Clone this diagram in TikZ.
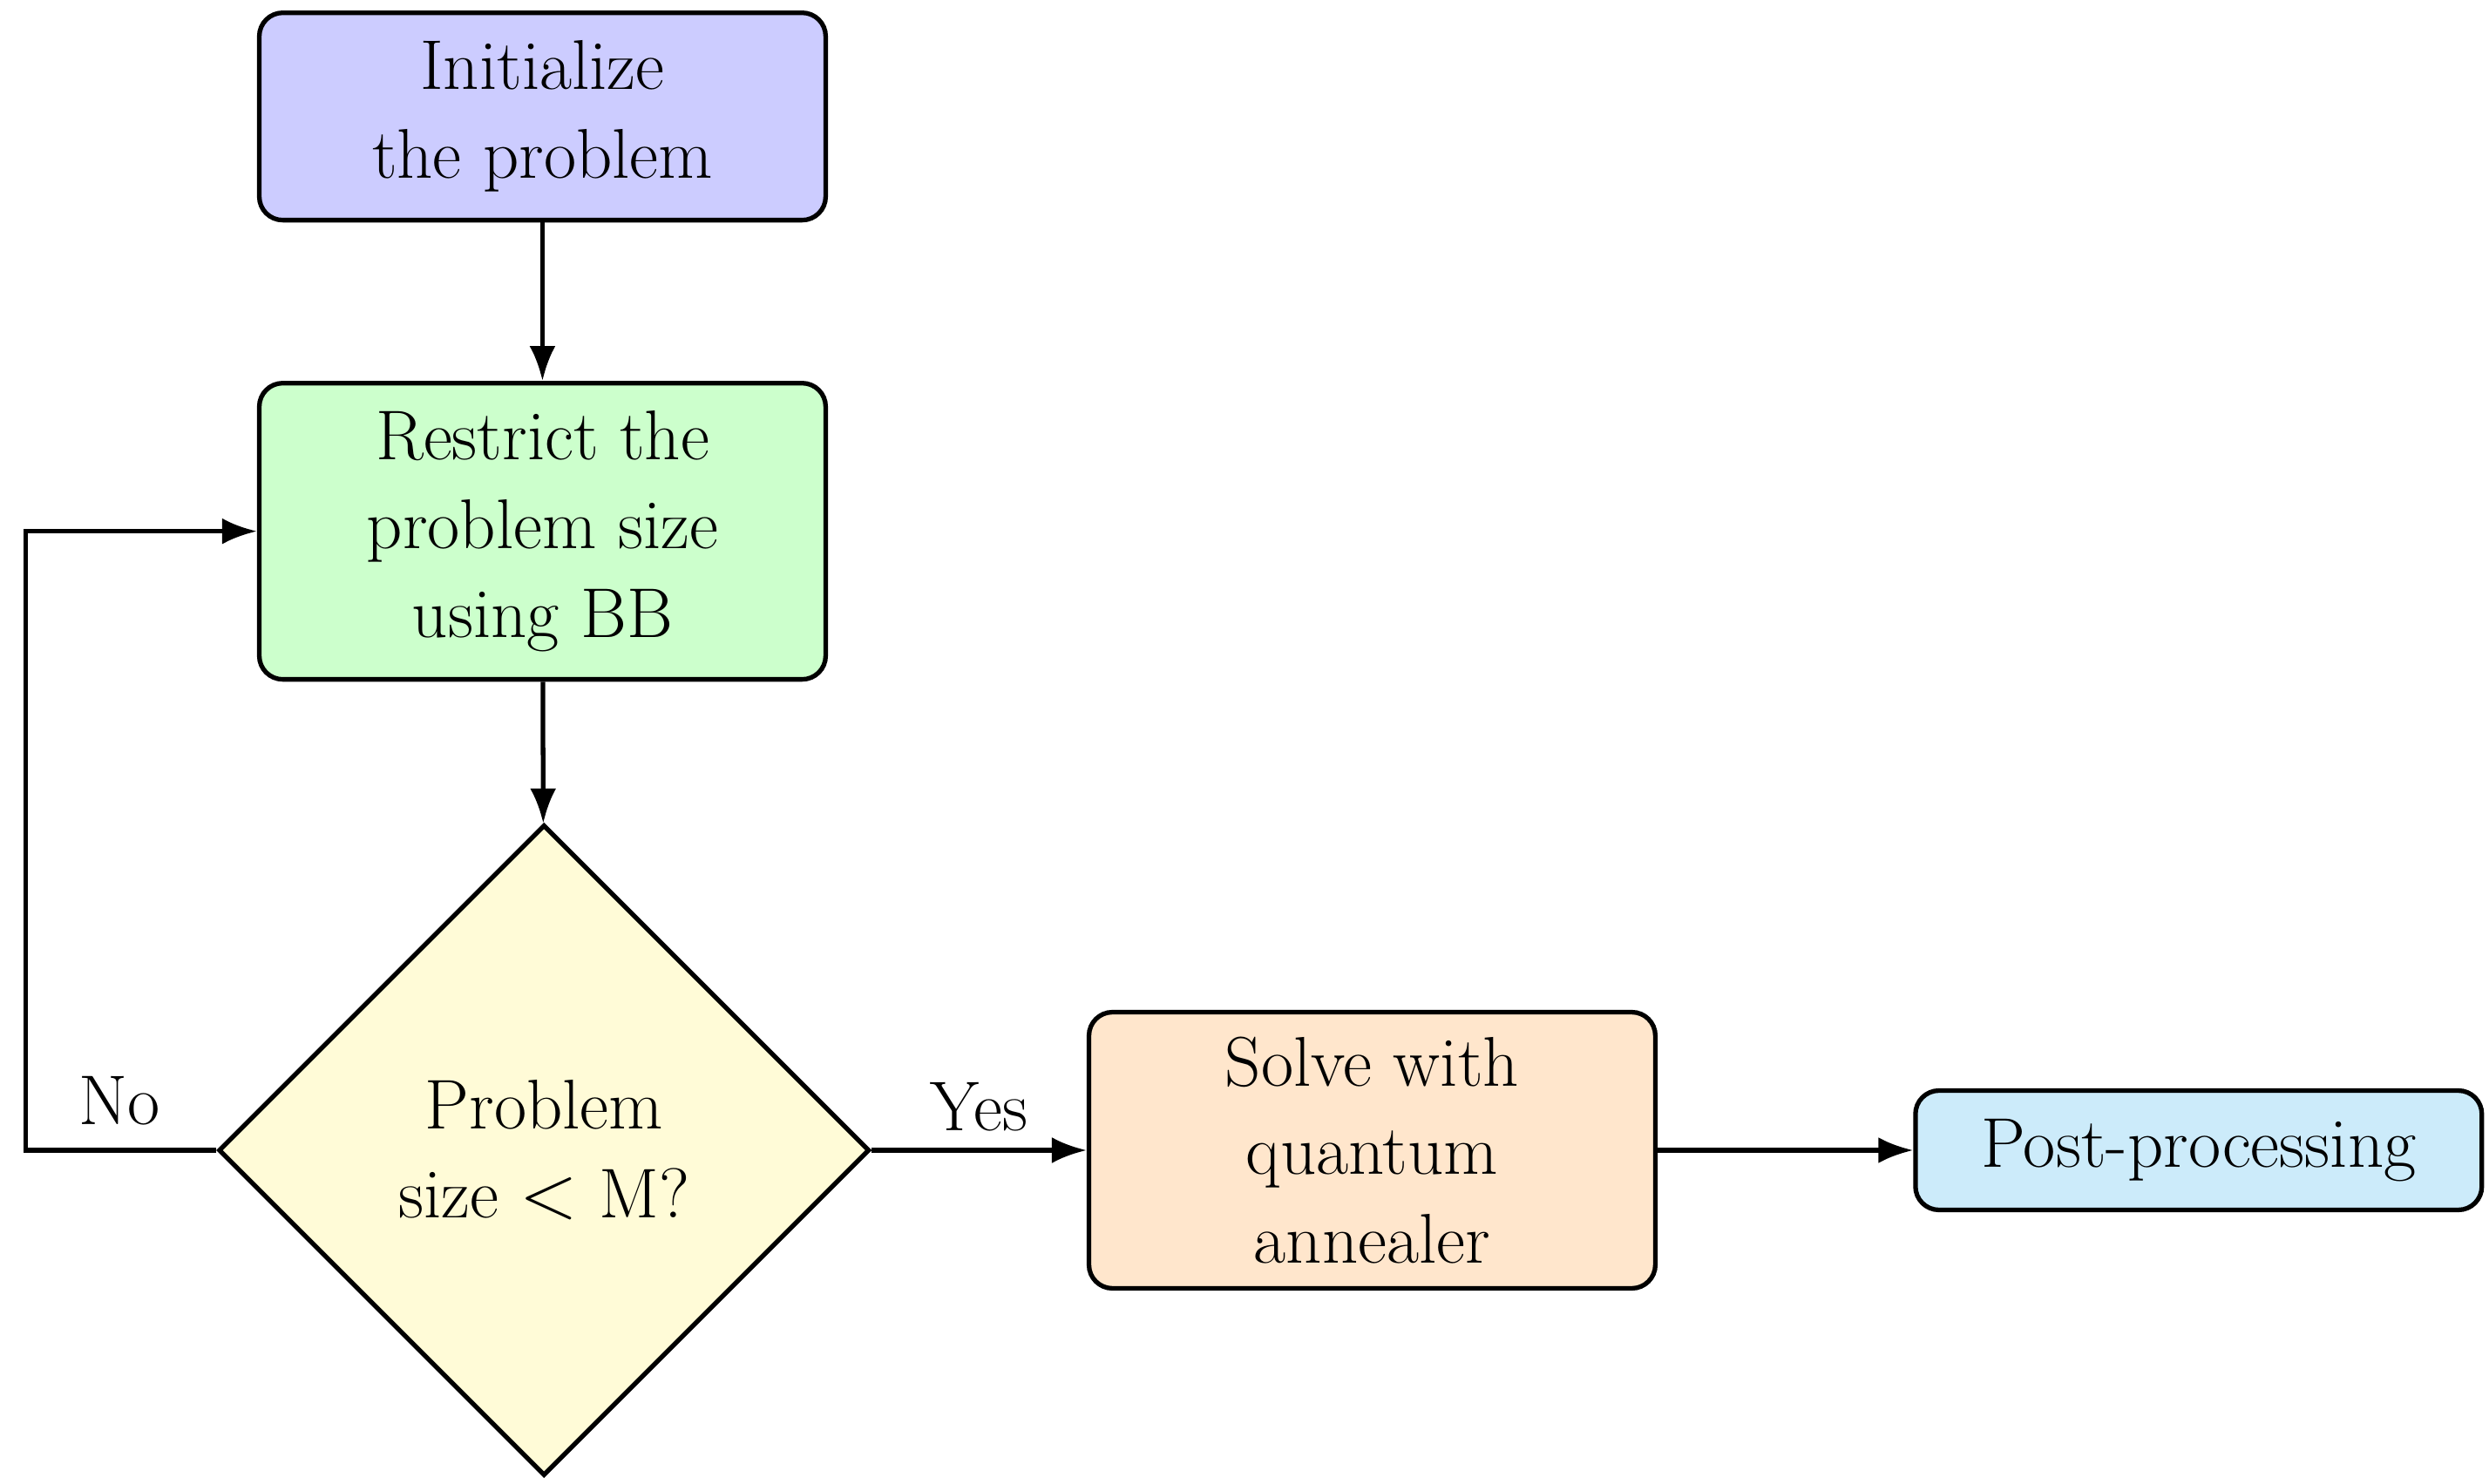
\documentclass[tikz,border=0pt]{standalone}
\usetikzlibrary{shapes.geometric,arrows.meta}
\begin{document}
\begin{tikzpicture}[x=0.01831cm,y=-0.01831cm,
  every node/.style={font=\fontsize{23}{29}\selectfont},
  box/.style={draw,line width=1.5pt,rounded corners=0.27cm,align=center,inner sep=0pt},
  arr/.style={line width=1.5pt,-{Latex[length=0.4cm,width=0.3cm]}}]
\useasboundingbox (0,0) rectangle (1560,930);
\definecolor{cA}{RGB}{204,204,255}
\definecolor{cB}{RGB}{204,255,204}
\definecolor{cC}{RGB}{255,251,215}
\definecolor{cD}{RGB}{255,230,204}
\definecolor{cE}{RGB}{204,235,250}
\node[box,fill=cA,minimum width=6.5cm,minimum height=2.38cm] (init) at (340,73) {Initialize\\the problem};
\node[box,fill=cB,minimum width=6.5cm,minimum height=3.4cm] (restrict) at (340,333) {Restrict the\\problem size\\using BB};
\node[draw,line width=1.5pt,diamond,aspect=1,fill=cC,minimum size=7.47cm,inner sep=0pt,align=center] (dec) at (341,721) {Problem\\size $<$ M?};
\node[box,fill=cD,minimum width=6.5cm,minimum height=3.17cm] (solve) at (860,721) {Solve with\\quantum\\annealer};
\node[box,fill=cE,minimum width=6.5cm,minimum height=1.37cm] (post) at (1378,721) {Post-processing};
\coordinate (c1) at (16,721);
\coordinate (c2) at (16,333);
\draw[arr] (init) -- (restrict);
\draw[arr] (restrict) -- (dec);
\draw[arr] (dec.east) -- node[above=2pt]{Yes} (solve.west);
\draw[arr] (solve) -- (post);
\draw[arr] (dec.west) -- (c1) -- (c2) -- (restrict.west);
\node (no) at (75,690) {No};
\end{tikzpicture}
\end{document}
